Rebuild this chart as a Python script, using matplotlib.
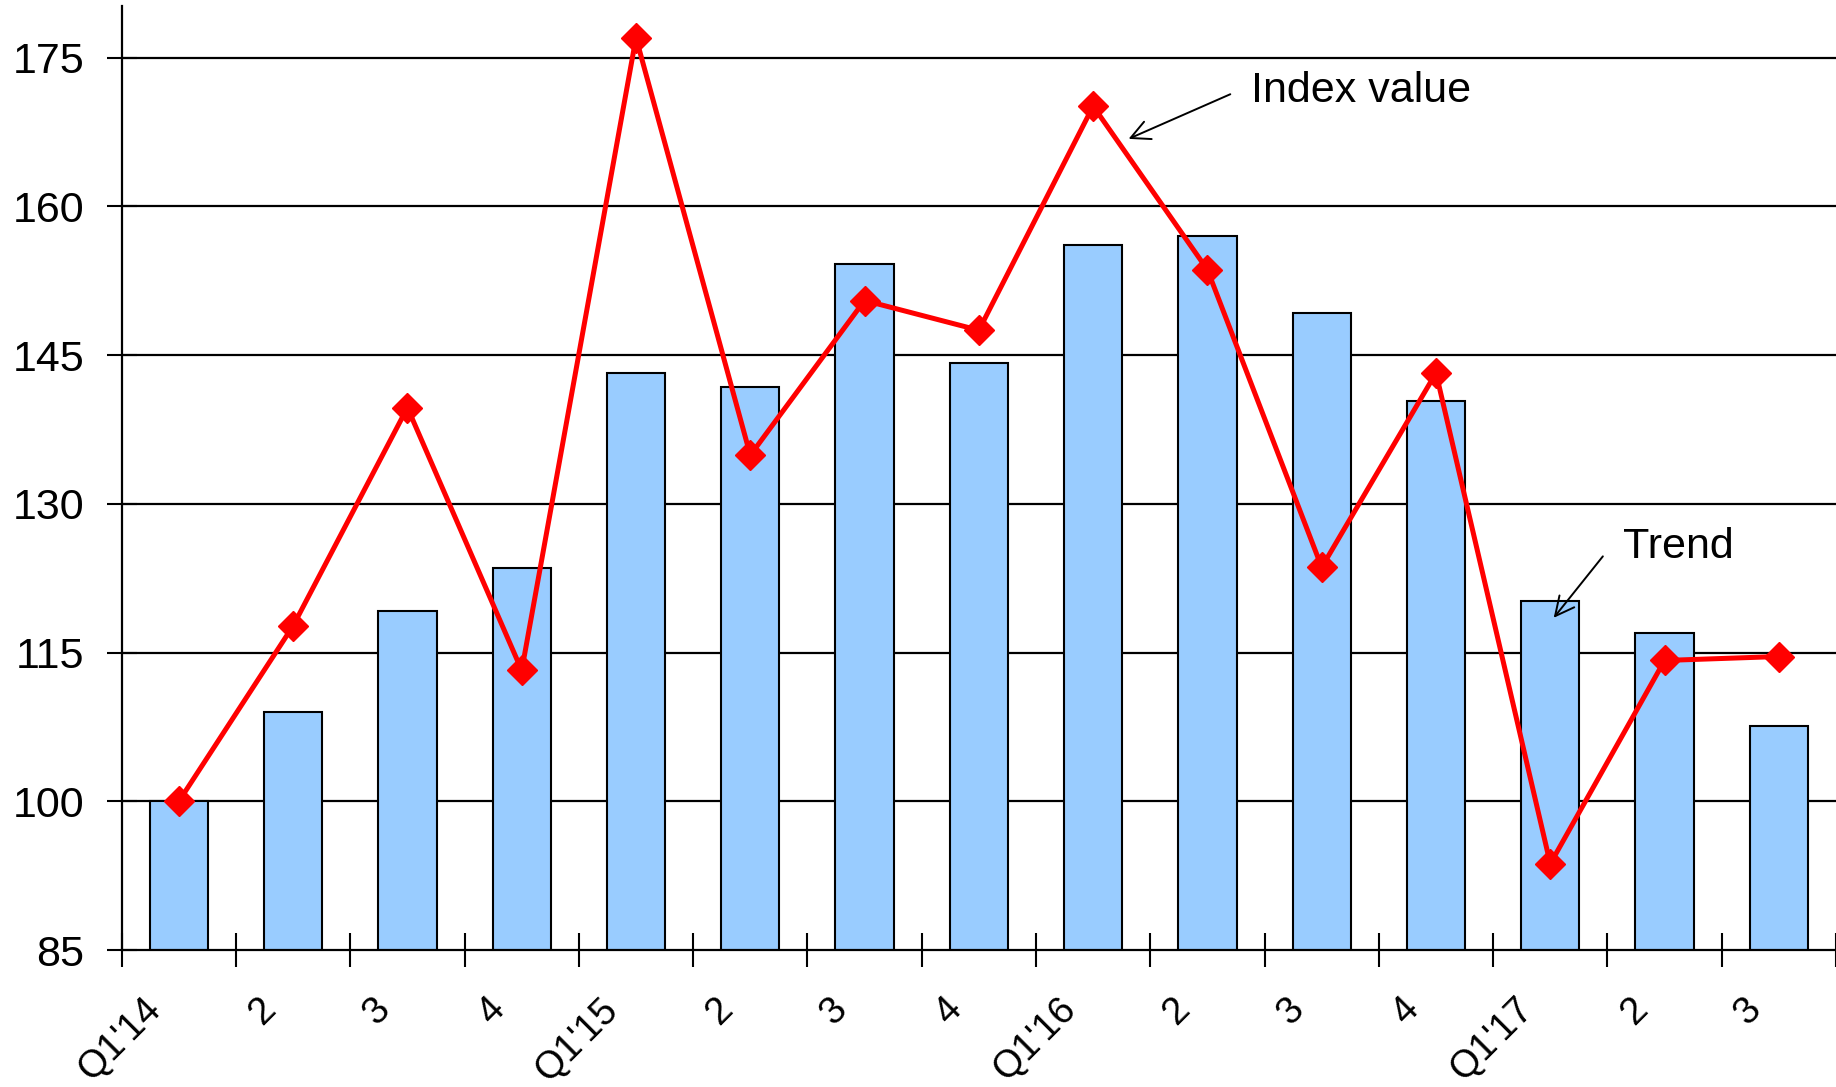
import matplotlib.pyplot as plt
from matplotlib.transforms import ScaledTranslation
import numpy as np

plt.rcParams['font.family'] = ['Liberation Sans', 'DejaVu Sans']

# Data
quarters = ["Q1'14", "2", "3", "4", "Q1'15", "2", "3", "4",
            "Q1'16", "2", "3", "4", "Q1'17", "2", "3"]
trend = [100, 109, 119.2, 123.5, 143.2, 141.8, 154.2, 144.2,
         156.1, 157.0, 149.2, 140.4, 120.2, 117.0, 107.6]
index_value = [100, 117.7, 139.7, 113.2, 177.0, 134.9, 150.5, 147.5,
               170.1, 153.6, 123.6, 143.2, 93.7, 114.2, 114.6]
y_ticks = [85, 100, 115, 130, 145, 160, 175]

x = np.arange(len(quarters))
FS = 31

fig = plt.figure(figsize=(18.36, 10.87), dpi=100)
ax = fig.add_axes([0.0663, 0.126, 0.9337, 0.8685])

# gridlines behind everything
for yt in y_ticks[1:]:
    ax.axhline(yt, color='black', lw=1.6, zorder=0)

ax.bar(x, trend, width=0.51, bottom=0, color='#99CCFF',
       edgecolor='black', linewidth=1.5, zorder=2)
ax.plot(x, index_value, color='#FF0000', lw=3.6, marker='D', markersize=15,
        markerfacecolor='#FF0000', markeredgecolor='#FF0000', zorder=3,
        clip_on=False)

ax.set_xlim(-0.5, len(quarters) - 0.5)
ax.set_ylim(85, 180.2)

# tick marks at category boundaries, labels under bars
ax.set_xticks(np.arange(len(quarters) + 1) - 0.5)
ax.set_xticklabels([])
ax.set_xticks(x, minor=True)
ax.set_xticklabels(quarters, minor=True, rotation=45, ha='right',
                   va='center', rotation_mode='anchor', fontsize=27.5)
ax.tick_params(axis='x', which='major', direction='inout', length=24,
               width=1.5, color='black')
ax.tick_params(axis='x', which='minor', length=0, pad=39)
shift = ScaledTranslation(-0.23, 0, fig.dpi_scale_trans)
for lbl in ax.get_xticklabels(minor=True):
    lbl.set_transform(lbl.get_transform() + shift)

ax.set_yticks(y_ticks)
ax.tick_params(axis='y', direction='inout', length=22, width=1.5,
               labelsize=FS, pad=16)

for side in ['top', 'right']:
    ax.spines[side].set_visible(False)
for side in ['left', 'bottom']:
    ax.spines[side].set_linewidth(1.6)
    ax.spines[side].set_zorder(4)

# annotations
ax.annotate('', xy=(8.31, 166.8), xytext=(9.20, 171.3),
            arrowprops=dict(arrowstyle='->', lw=1.4, mutation_scale=34,
                            color='black', shrinkA=0, shrinkB=0))
ax.text(9.38, 170.5, 'Index value', fontsize=FS, ha='left', va='baseline')

ax.annotate('', xy=(12.03, 118.5), xytext=(12.46, 124.7),
            arrowprops=dict(arrowstyle='->', lw=1.4, mutation_scale=34,
                            color='black', shrinkA=0, shrinkB=0))
ax.text(12.64, 124.5, 'Trend', fontsize=FS, ha='left', va='baseline')

fig.savefig('out.png', dpi=100)
